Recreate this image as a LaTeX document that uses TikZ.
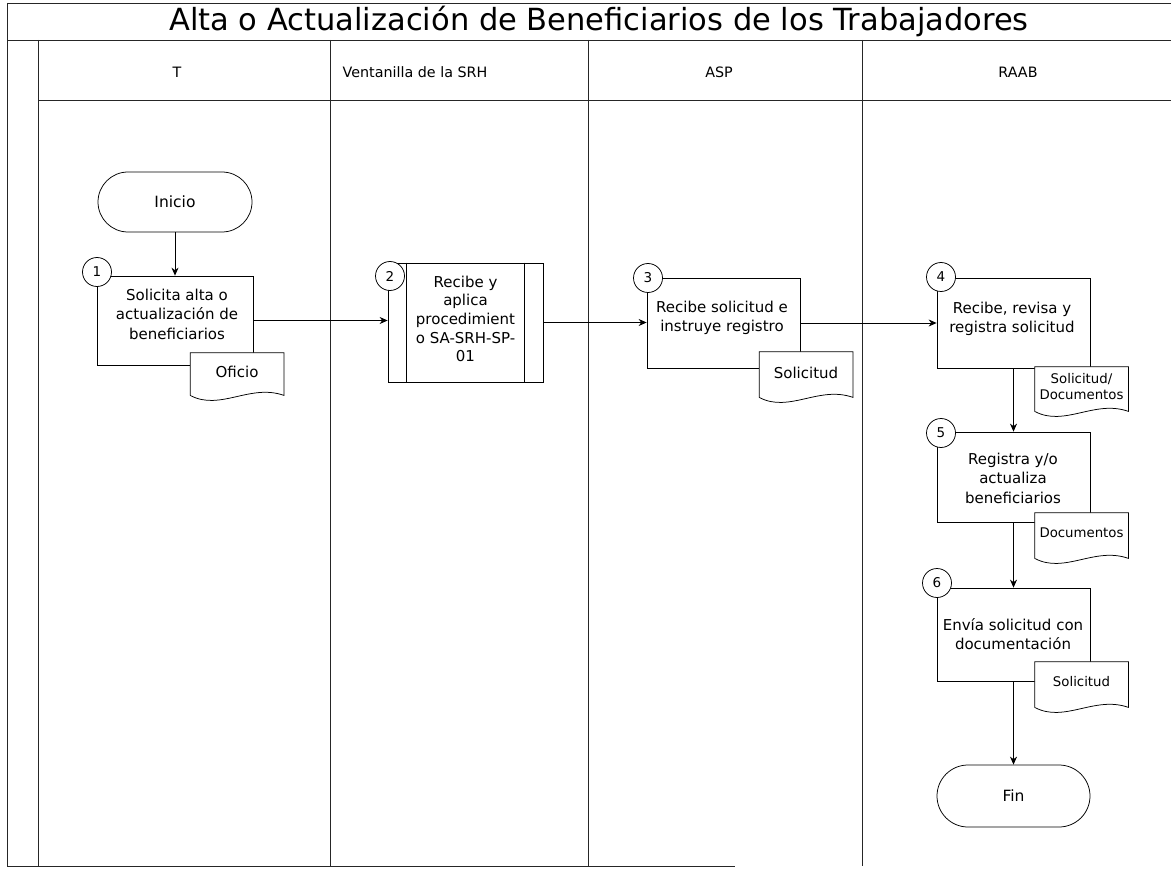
\documentclass[tikz,border=0pt]{standalone}
\usepackage{fontspec}
\setmainfont{DejaVu Sans}
\newfontfamily\vf{DejaVu Sans}
\usetikzlibrary{calc,arrows.meta}
\newcommand\docshape[1]{%
  \path[draw,fill=white] (#1.north west) -- (#1.north east) -- (#1.south east)
    .. controls ($(#1.south east)+(-34pt,12pt)$) and ($(#1.south west)+(30pt,-16pt)$) .. (#1.south west) -- cycle;}
\begin{document}
\begin{tikzpicture}[x=1pt,y=-1pt,line width=0.75pt,
  frame/.style={draw=black!85},
  title/.style={font=\vf\fontsize{30.5}{32}\selectfont},
  lanehead/.style={font=\vf\fontsize{14.3}{16}\selectfont},
  proc/.style={draw,fill=white,inner sep=0pt},
  ptext/.style={align=center,font=\vf\fontsize{15}{19.5}\selectfont,inner sep=0pt},
  term/.style={draw,fill=white,rounded corners=30pt,minimum width=154pt,minimum height=60pt,font=\vf\fontsize{15.5}{17}\selectfont},
  num/.style={draw,fill=white,circle,minimum size=29pt,inner sep=0pt,font=\vf\fontsize{13.5}{15}\selectfont},
  docnode/.style={draw=none,minimum width=93pt,inner sep=0pt,align=center,font=\vf\fontsize{15}{17}\selectfont},
  flow/.style={-{Stealth[length=8pt,width=7pt]}}
]
\useasboundingbox (0,0) rectangle (1171,869);
% frame and lanes
\draw[frame] (7,3) -- (1171,3);
\draw[frame] (7,3) -- (7,866);
\draw[frame] (7,40) -- (1171,40);
\draw[frame] (38,40) -- (38,866);
\draw[frame] (38,100) -- (1171,100);
\draw[frame] (330,40) -- (330,866);
\draw[frame] (588,40) -- (588,866);
\draw[frame] (862,40) -- (862,866);
\draw[frame] (7,866) -- (735,866);
\node[title] (ttl) at (599,21) {Alta o Actualización de Beneficiarios de los Trabajadores};
\node[lanehead] (hT) at (177,72) {T};
\node[lanehead] (hV) at (415,72) {Ventanilla de la SRH};
\node[lanehead] (hA) at (719,72) {ASP};
\node[lanehead] (hR) at (1018,72) {RAAB};

% terminals
\node[term] (inicio) at (175,202) {Inicio};
\node[term,minimum width=153pt,minimum height=62pt,rounded corners=31pt] (fin) at (1013.5,796) {Fin};

% process boxes
\node[proc,minimum width=156pt,minimum height=89pt] (b1) at (175,320.5) {};
\node[proc,minimum width=155pt,minimum height=119pt] (b2) at (465.5,322.5) {};
\draw ($(b2.north west)+(19pt,0)$) -- ($(b2.south west)+(19pt,0)$);
\draw ($(b2.north east)+(-19pt,0)$) -- ($(b2.south east)+(-19pt,0)$);
\node[proc,minimum width=153pt,minimum height=90pt] (b3) at (723.5,323) {};
\node[proc,minimum width=153pt,minimum height=90pt] (b4) at (1013.5,323) {};
\node[proc,minimum width=153pt,minimum height=90pt] (b5) at (1013.5,477) {};
\node[proc,minimum width=153pt,minimum height=93pt] (b6) at (1013.5,634.5) {};

\node[ptext] (t1) at (177,314) {Solicita alta o\\actualización de\\beneficiarios};
\node[ptext,font=\vf\fontsize{15}{18.7}\selectfont] (t2) at (465.5,319) {Recibe y\\aplica\\procedimient\\o SA-SRH-SP-\\01};
\node[ptext] (t3) at (722,318) {Recibe solicitud e\\instruye registro};
\node[ptext] (t4) at (1012,319) {Recibe, revisa y\\registra solicitud};
\node[ptext] (t5) at (1013,478) {Registra y/o\\actualiza\\beneficiarios};
\node[ptext] (t6) at (1013,634) {Envía solicitud con\\documentación};

% documents
\node[docnode,minimum height=42pt] (d1) at (237,374) {};
\docshape{d1}
\node[docnode] (d1t) at (237,372) {Oficio};
\node[docnode,minimum height=45pt] (d3) at (806,374.5) {};
\docshape{d3}
\node[docnode] (d3t) at (806,373) {Solicitud};
\node[docnode,minimum height=44pt] (d4) at (1081.5,389) {};
\docshape{d4}
\node[docnode,font=\vf\fontsize{13.3}{16}\selectfont] (d4t) at (1081.5,387) {Solicitud/\\Documentos};
\node[docnode,minimum height=45pt] (d5) at (1081.5,535.5) {};
\docshape{d5}
\node[docnode,font=\vf\fontsize{13.3}{16}\selectfont] (d5t) at (1081.5,533) {Documentos};
\node[docnode,minimum height=45pt] (d6) at (1081.5,684.5) {};
\docshape{d6}
\node[docnode,font=\vf\fontsize{13.3}{16}\selectfont] (d6t) at (1081.5,682) {Solicitud};

% numbers
\node[num] (c1) at (97,272) {1};
\node[num] (c2) at (390,276) {2};
\node[num] (c3) at (648,278) {3};
\node[num] (c4) at (941,277) {4};
\node[num] (c5) at (941,433) {5};
\node[num] (c6) at (937,583) {6};

% connectors
\draw[flow] (inicio.south) -- (b1.north);
\draw[flow] (b1.east) -- (b1.east -| b2.west);
\draw[flow] (b2.east) -- (b2.east -| b3.west);
\draw[flow] (b3.east) -- (b3.east -| b4.west);
\draw[flow] (b4.south) -- (b5.north);
\draw[flow] (b5.south) -- (b6.north);
\draw[flow] (b6.south) -- (fin.north);
\end{tikzpicture}
\end{document}
